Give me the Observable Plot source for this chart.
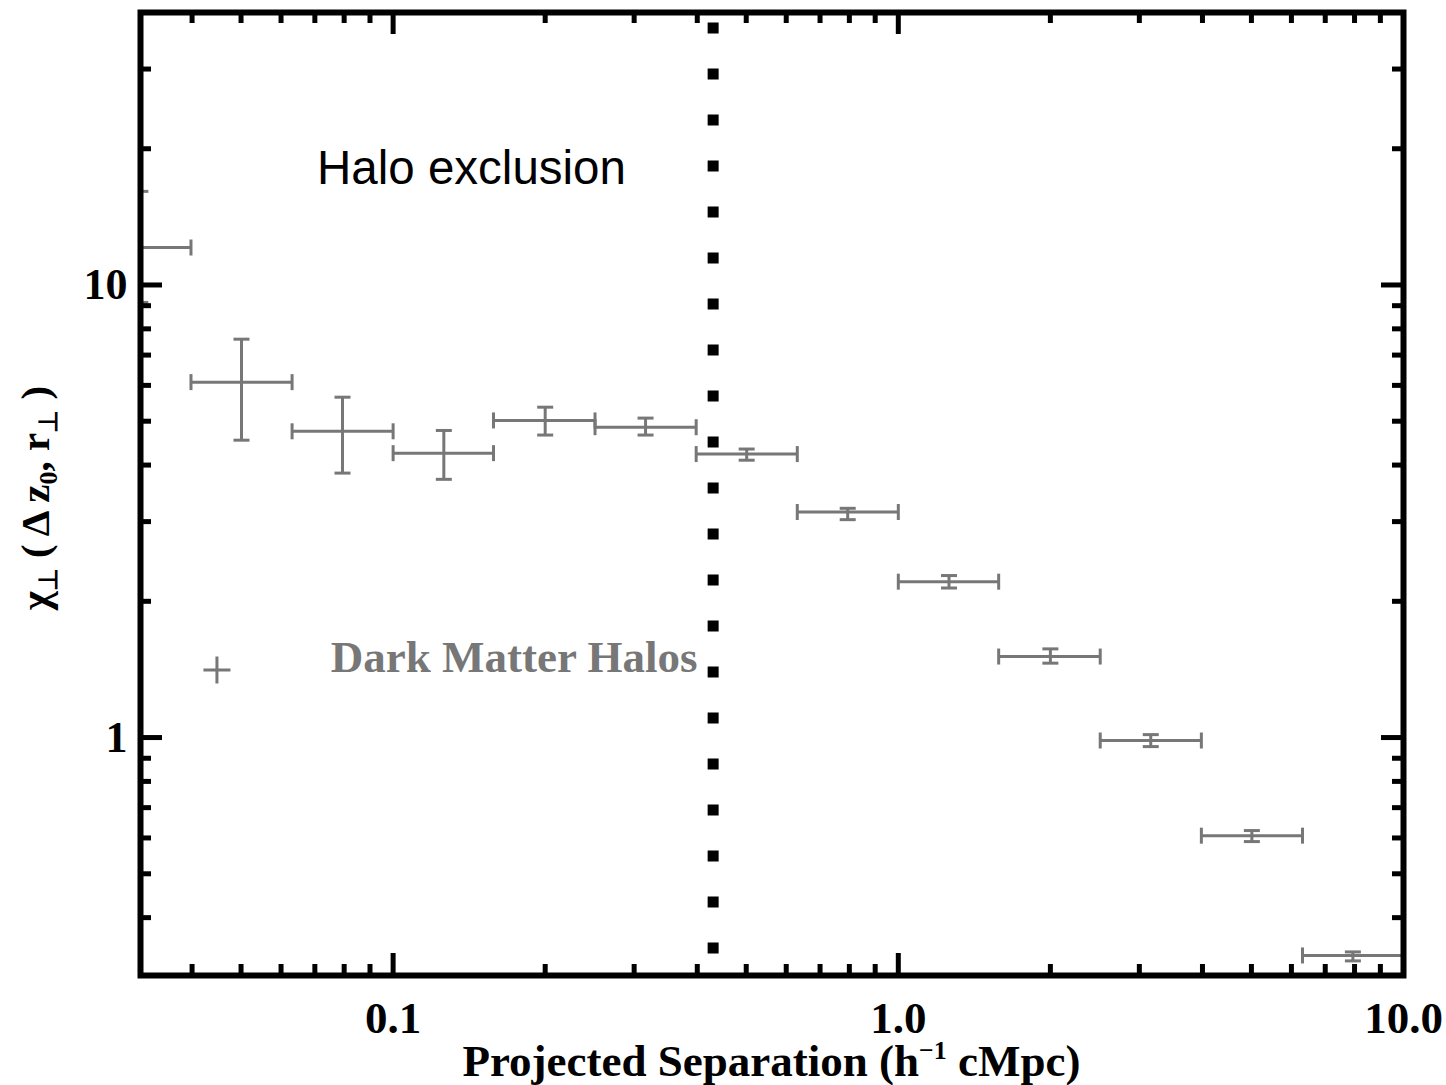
<!DOCTYPE html>
<html><head><meta charset="utf-8">
<script src="https://cdn.jsdelivr.net/npm/d3@7"></script>
<script src="https://cdn.jsdelivr.net/npm/@observablehq/plot@0.6"></script>
<style>
html,body{margin:0;padding:0;background:#fff;}
#chart svg{display:block;}
</style>
</head><body><div id="chart"></div>
<script>
// ---- data ----
const sepCenter = [0.0316, 0.0501, 0.0794, 0.126, 0.200, 0.316, 0.501, 0.794, 1.26, 2.00, 3.16, 5.01, 7.94];
const sepLow    = [0.0251, 0.0398, 0.0631, 0.100, 0.158, 0.251, 0.398, 0.631, 1.00, 1.58, 2.51, 3.98, 6.31];
const sepHigh   = [0.0398, 0.0631, 0.100, 0.158, 0.251, 0.398, 0.631, 1.00, 1.58, 2.51, 3.98, 6.31, 10.0];
const chi       = [12.1, 6.10, 4.75, 4.25, 5.02, 4.85, 4.23, 3.15, 2.21, 1.51, 0.985, 0.607, 0.330];
const chiLow    = [9.15, 4.54, 3.84, 3.72, 4.66, 4.66, 4.10, 3.03, 2.14, 1.46, 0.955, 0.589, 0.321];
const chiHigh   = [16.1, 7.59, 5.65, 4.77, 5.37, 5.08, 4.34, 3.21, 2.28, 1.57, 1.015, 0.623, 0.336];

const xDomain = [0.03162, 10];
const yDomain = [0.298, 40];
const xMajor = [0.1, 1, 10];
const xMajorLabels = ["0.1", "1.0", "10.0"];
const xMinor = [0.04, 0.05, 0.06, 0.07, 0.08, 0.09, 0.2, 0.3, 0.4, 0.5, 0.6, 0.7, 0.8, 0.9, 2, 3, 4, 5, 6, 7, 8, 9];
const yMajor = [1, 10];
const yMajorLabels = ["1", "10"];
const yMinor = [0.4, 0.5, 0.6, 0.7, 0.8, 0.9, 2, 3, 4, 5, 6, 7, 8, 9, 20, 30];

const haloExclusion = 0.43;
const haloLabel = {x: 0.0707, y: 18.1, text: "Halo exclusion"};
const legendLabel = {x: 0.0753, y: 1.50, text: "Dark Matter Halos"};
const legendMarker = {x: 0.0448, y: 1.41};
const xTitle = ["Projected Separation (h", "\u22121", " cMpc)"];

// ---- layout ----
const W = 1446, H = 1085, mL = 140, mR = 43, mT = 12, mB = 110;
const fW = W - mL - mR, fH = H - mT - mB;
const majLen = 22, minLen = 11;
const gray = "#777777";
const serif = "'Liberation Serif', 'Times New Roman', Times, serif";

const rows = sepCenter.map((x, i) => ({x, xlo: sepLow[i], xhi: sepHigh[i], y: chi[i], ylo: chiLow[i], yhi: chiHigh[i]}));

const vbar = {draw(c, s) { const r = Math.sqrt(s / Math.PI); c.moveTo(0, -r); c.lineTo(0, r); }};
const hbar = {draw(c, s) { const r = Math.sqrt(s / Math.PI); c.moveTo(-r, 0); c.lineTo(r, 0); }};
const cross = {draw(c, s) { const r = Math.sqrt(s / Math.PI); c.moveTo(-r, 0); c.lineTo(r, 0); c.moveTo(0, -r); c.lineTo(0, r); }};

const eb = {stroke: gray, strokeWidth: 3, clip: true};
const capOpts = {r: 8, fill: "none", stroke: gray, strokeWidth: 3, clip: true};
const tk = {stroke: "black", strokeWidth: 5};

const plot = Plot.plot({
  width: W, height: H,
  marginLeft: mL, marginRight: mR, marginTop: mT, marginBottom: mB,
  style: {background: "white", fontFamily: serif, color: "black"},
  x: {type: "log", domain: xDomain, label: null},
  y: {type: "log", domain: yDomain, label: null},
  marks: [
    // error bars
    Plot.ruleY(rows, {y: "y", x1: "xlo", x2: "xhi", ...eb}),
    Plot.ruleX(rows, {x: "x", y1: "ylo", y2: "yhi", ...eb}),
    Plot.dot(rows, {x: "xlo", y: "y", ...capOpts, symbol: vbar}),
    Plot.dot(rows, {x: "xhi", y: "y", ...capOpts, symbol: vbar}),
    Plot.dot(rows, {x: "x", y: "ylo", ...capOpts, symbol: hbar}),
    Plot.dot(rows, {x: "x", y: "yhi", ...capOpts, symbol: hbar}),
    // halo exclusion dotted line
    Plot.ruleX([haloExclusion], {x: d => d, stroke: "black", strokeWidth: 11, strokeDasharray: "11 35", strokeDashoffset: 35.5}),
    // annotations
    Plot.text([haloLabel], {x: "x", y: "y", text: "text", textAnchor: "start", fontFamily: "'Liberation Sans', Arial, sans-serif", fontSize: 47.5, fill: "black"}),
    Plot.text([legendLabel], {x: "x", y: "y", text: "text", textAnchor: "start", fontFamily: serif, fontWeight: "bold", fontSize: 45, fill: gray}),
    Plot.dot([legendMarker], {x: "x", y: "y", symbol: cross, r: 13.5, fill: "none", stroke: gray, strokeWidth: 3}),
    // inward ticks: bottom, top, left, right
    Plot.ruleX(xMajor, {x: d => d, insetTop: fH - majLen, ...tk}),
    Plot.ruleX(xMinor, {x: d => d, insetTop: fH - minLen, ...tk}),
    Plot.ruleX(xMajor, {x: d => d, insetBottom: fH - majLen, ...tk}),
    Plot.ruleX(xMinor, {x: d => d, insetBottom: fH - minLen, ...tk}),
    Plot.ruleY(yMajor, {y: d => d, insetRight: fW - majLen, ...tk}),
    Plot.ruleY(yMinor, {y: d => d, insetRight: fW - minLen, ...tk}),
    Plot.ruleY(yMajor, {y: d => d, insetLeft: fW - majLen, ...tk}),
    Plot.ruleY(yMinor, {y: d => d, insetLeft: fW - minLen, ...tk}),
    // tick labels
    Plot.axisX({ticks: xMajor, tickFormat: d => xMajorLabels[xMajor.indexOf(d)], tickSize: 0, tickPadding: 26, fontSize: 45, fontWeight: "bold", fontFamily: serif, label: null}),
    Plot.axisY({ticks: yMajor, tickFormat: d => yMajorLabels[yMajor.indexOf(d)], tickSize: 0, tickPadding: 13, fontSize: 44, fontWeight: "bold", fontFamily: serif, label: null}),
    Plot.frame({stroke: "black", strokeWidth: 6})
  ]
});

document.getElementById("chart").appendChild(plot);

// axis titles with sub/superscripts
const svg = d3.select(plot);
const xt = svg.append("text")
  .attr("x", mL + fW / 2).attr("y", 1076)
  .attr("text-anchor", "middle")
  .attr("font-family", serif).attr("font-weight", "bold").attr("font-size", 45).attr("fill", "black");
xt.append("tspan").text(xTitle[0]);
xt.append("tspan").attr("dy", -17).attr("font-size", 26).text(xTitle[1]);
xt.append("tspan").attr("dy", 17).attr("font-size", 45).text(xTitle[2]);

const yt = svg.append("text")
  .attr("transform", `translate(49,498) rotate(-90)`)
  .attr("text-anchor", "middle")
  .attr("font-family", serif).attr("font-weight", "bold").attr("font-size", 41).attr("fill", "black");
const parts = [["\u03C7", 0, 41], ["\u22A5", 8, 26], [" ( \u0394 z", -8, 41], ["0", 8, 26], [", r", -8, 41], ["\u22A5", 8, 26], [" )", -8, 41]];
parts.forEach(([t, dy, fs]) => yt.append("tspan").attr("dy", dy).attr("font-size", fs).text(t));
</script>
</body></html>
